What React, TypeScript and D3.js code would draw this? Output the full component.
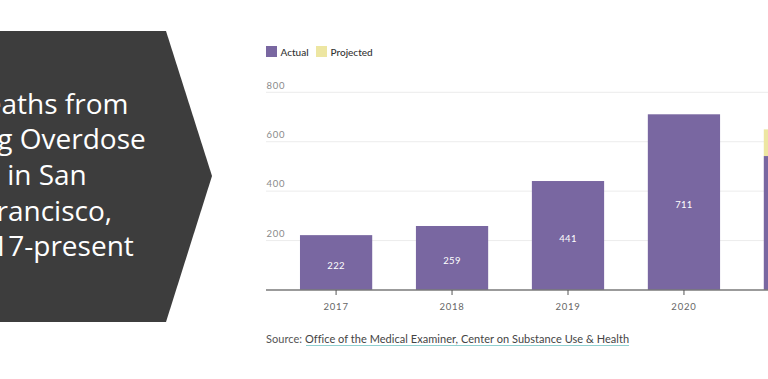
import React from 'react';
import * as d3 from 'd3';

const years = ['2017', '2018', '2019', '2020', '2021'];
const actual = [222, 259, 441, 711, 542];
const projected = [0, 0, 0, 0, 108];
const yTicks = [200, 400, 600, 800];
const titleLines = ['Deaths from', 'Drug Overdose', 'in San', 'Francisco,', '2017-present'];
const legendItems = ['Actual', 'Projected'];
const sourceLabel = 'Source: ';
const sourceLink = 'Office of the Medical Examiner, Center on Substance Use & Health';

const PURPLE = '#7967a1';
const YELLOW = '#ede6a2';
const CHART_FONT = 'Lato, "Open Sans", sans-serif';

export default function App() {
  const W = 768;
  const H = 379;
  const x = d3
    .scaleBand<string>()
    .domain(years)
    .range([266, 870])
    .paddingInner(0.377)
    .paddingOuter(0.293);
  const y = d3.scaleLinear().domain([0, 800]).range([290, 92.3]);
  const bw = x.bandwidth();
  const legendColors = [PURPLE, YELLOW];
  const legendX = [266, 316];

  return (
    <svg
      width={W}
      height={H}
      style={{ position: 'absolute', left: 0, top: 0, background: '#fff' }}
    >
      {/* left chevron panel */}
      <polygon points="0,31 166,31 212,176 166,322 0,322" fill="#3d3d3d" />
      {titleLines.map((t, i) => (
        <text
          key={t}
          x={47}
          y={113.5 + i * 35.7}
          textAnchor="middle"
          fill="#ffffff"
          style={{ font: '28px "Open Sans", sans-serif' }}
        >
          {t}
        </text>
      ))}

      {/* legend */}
      {legendItems.map((l, i) => (
        <g key={l}>
          <rect x={legendX[i]} y={46} width={11} height={11} fill={legendColors[i]} />
          <text
            x={legendX[i] + 14.5}
            y={55.5}
            fill="#333"
            style={{ font: `500 10px ${CHART_FONT}` }}
          >
            {l}
          </text>
        </g>
      ))}

      {/* gridlines */}
      {yTicks.map((v) => (
        <g key={v}>
          <line x1={266} x2={W} y1={y(v)} y2={y(v)} stroke="#ececec" strokeWidth={1} />
          <text
            x={266.5}
            y={y(v) - 3.8}
            fill="#8a8a8a"
            style={{ font: `9.5px ${CHART_FONT}`, letterSpacing: '0.8px' }}
          >
            {v}
          </text>
        </g>
      ))}

      {/* bars */}
      {years.map((yr, i) => {
        const x0 = x(yr) as number;
        const a = actual[i];
        const p = projected[i];
        const mid = (y(a) + y(0)) / 2;
        return (
          <g key={yr}>
            {p > 0 && (
              <rect x={x0} y={y(a + p)} width={bw} height={y(a) - y(a + p)} fill={YELLOW} />
            )}
            <rect x={x0} y={y(a)} width={bw} height={y(0) - y(a)} fill={PURPLE} />
            <text
              x={x0 + bw / 2}
              y={mid + 6}
              textAnchor="middle"
              fill="#fff"
              style={{ font: `9.5px ${CHART_FONT}`, letterSpacing: '0.3px' }}
            >
              {a}
            </text>
          </g>
        );
      })}

      {/* x axis */}
      <line x1={266} x2={W} y1={290} y2={290} stroke="#7a7a7a" strokeWidth={1.5} />
      {years.map((yr) => {
        const cx = (x(yr) as number) + bw / 2;
        return (
          <g key={'t' + yr}>
            <line x1={cx} x2={cx} y1={290} y2={295} stroke="#555" strokeWidth={1} />
            <text
              x={cx}
              y={309.5}
              textAnchor="middle"
              fill="#666"
              style={{ font: `9.5px ${CHART_FONT}`, letterSpacing: '0.8px' }}
            >
              {yr}
            </text>
          </g>
        );
      })}

      {/* source */}
      <text x={266} y={343} style={{ font: `11px ${CHART_FONT}`, letterSpacing: '0.04px' }}>
        <tspan fill="#555">{sourceLabel}</tspan>
        <tspan fill="#444">{sourceLink}</tspan>
      </text>
      <line x1={306} x2={629} y1={345.5} y2={345.5} stroke="#8fcfcf" strokeWidth={1} />
    </svg>
  );
}
